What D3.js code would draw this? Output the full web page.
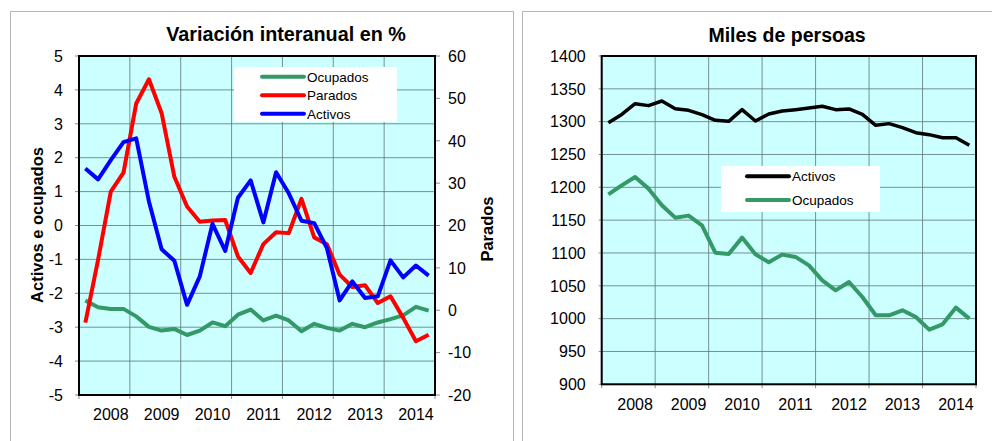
<!DOCTYPE html>
<head>
  <meta charset="utf-8">
  <style>
    body { margin: 0; background: #fff; }
    svg { display: block; font-family: "Liberation Sans", Arial, sans-serif; }
  </style>
  <script src="https://cdn.jsdelivr.net/npm/d3@7"></script>
</head>
<body>
<div id=chart></div>
<script>
// quarters 2008T1 .. 2014T4
const years = [2008, 2009, 2010, 2011, 2012, 2013, 2014]
const quarters = years.flatMap(y => ['T1', 'T2', 'T3', 'T4'].map(q => `${y}${q}`))

// variación interanual (%)
const var_ocupados = [-2.21, -2.41, -2.46, -2.46, -2.68, -2.99, -3.10, -3.05, -3.23, -3.10, -2.86, -2.97, -2.63, -2.48,
  -2.80, -2.66, -2.80, -3.12, -2.90, -3.02, -3.10, -2.90, -3.00, -2.86, -2.76, -2.65, -2.40, -2.51]
const var_activos = [1.68, 1.36, 1.93, 2.46, 2.57, 0.71, -0.70, -1.04, -2.34, -1.50, 0.05, -0.75, 0.82, 1.33,
  0.09, 1.57, 0.95, 0.14, 0.07, -0.67, -2.21, -1.65, -2.14, -2.09, -1.03, -1.53, -1.18, -1.48]
const var_parados = [-2.9, 11.9, 28.0, 32.5, 48.8, 54.5, 46.5, 31.5, 24.5, 20.9, 21.2, 21.3, 12.7, 8.8,
  15.6, 18.4, 18.2, 26.3, 17.2, 15.6, 8.4, 5.5, 5.9, 1.7, 3.3, -1.8, -7.3, -5.8]

// miles de persoas
const miles_activos = [1298.5, 1311, 1327.4, 1324.4, 1331.5, 1319.8, 1317.3, 1310.7, 1302, 1300.5, 1318.3, 1301, 1311.7, 1316.2,
  1318.3, 1320.8, 1323.4, 1318.3, 1319.3, 1311.2, 1294.4, 1297, 1290.9, 1283.2, 1280.2, 1275.6, 1275.6, 1264]
const miles_ocupados = [1189.3, 1203, 1215.7, 1198, 1172.6, 1153.8, 1156.9, 1142.1, 1100.5, 1098.5, 1123.4, 1098, 1085.8, 1097.5,
  1094, 1081.2, 1058.4, 1043.1, 1055.8, 1033, 1005.1, 1005.1, 1012.7, 1002.5, 983.2, 991.4, 1016.8, 1000]

const left_ticks = d3.range(-5, 6, 1)
const right_ticks = d3.range(-20, 61, 10)
const miles_ticks = d3.range(900, 1401, 50)

const svg = d3.select('#chart').append('svg').attr('width', 992).attr('height', 441)

// outer frames
svg.append('path').attr('d', 'M10.5,441V11.5H513.5V441').attr('fill', 'none').attr('stroke', '#b4b4b4')
svg.append('path').attr('d', 'M522.5,441V11.5H992').attr('fill', 'none').attr('stroke', '#b4b4b4')

const grid_color = '#5f7878'

function plot_base(g, x, y, yticks, box) {
  const [x0, x1] = x.range(), [y0, y1] = [box.top, box.bottom]
  g.append('rect').attr('x', x0).attr('y', y0).attr('width', x1 - x0).attr('height', y1 - y0).attr('fill', '#ccffff')
  // horizontal grid
  g.append('g').selectAll('line').data(yticks).join('line')
    .attr('x1', x0 - box.tick).attr('x2', x1).attr('y1', d => y(d)).attr('y2', d => y(d))
    .attr('stroke', grid_color).attr('stroke-width', 1).attr('opacity', 0.8)
  // vertical grid + bottom ticks
  const bounds = quarters.filter((q, i) => i % 4 === 0).map(q => x(q)).concat([x1])
  g.append('g').selectAll('line').data(bounds).join('line')
    .attr('x1', d => d).attr('x2', d => d).attr('y1', y0).attr('y2', y1 + 4)
    .attr('stroke', grid_color).attr('stroke-width', 1).attr('opacity', 0.8)
  // year labels
  g.append('g').selectAll('text').data(years).join('text')
    .attr('x', (d, i) => x(quarters[i * 4 + 2]) + x.bandwidth() / 2)
    .attr('y', box.label_y)
    .attr('text-anchor', 'middle').attr('font-size', 16).text(d => d)
  // y labels
  g.append('g').selectAll('text').data(yticks).join('text')
    .attr('x', x0 - 16).attr('y', d => y(d)).attr('dy', '0.36em')
    .attr('text-anchor', 'end').attr('font-size', 16).text(d => d)
}

function plot_border(g, x, box) {
  const [x0, x1] = x.range()
  g.append('rect').attr('x', x0).attr('y', box.top).attr('width', x1 - x0).attr('height', box.bottom - box.top)
    .attr('fill', 'none').attr('stroke', '#000').attr('stroke-width', 2)
}

function draw_series(g, x, y, values, color, width) {
  const line = d3.line().x((d, i) => x(quarters[i]) + x.bandwidth() / 2).y(d => y(d))
  g.append('path').attr('d', line(values)).attr('fill', 'none')
    .attr('stroke', color).attr('stroke-width', width).attr('stroke-linejoin', 'round')
}

function legend(g, items, box) {
  g.append('rect').attr('x', box.x).attr('y', box.y).attr('width', box.w).attr('height', box.h).attr('fill', '#fff')
  const rows = g.append('g').selectAll('g').data(items).join('g')
    .attr('transform', (d, i) => `translate(0,${box.row0 + i * box.step})`)
  rows.append('line').attr('x1', box.lx0).attr('x2', box.lx1)
    .attr('stroke', d => d.color).attr('stroke-width', 4).attr('stroke-linecap', 'round')
  rows.append('text').attr('x', box.lx1 + 3).attr('dy', '0.36em').attr('font-size', 13.5).text(d => d.name)
}

// ---- left chart: variación interanual ----
{
  const g = svg.append('g')
  const box = { top: 56, bottom: 395, tick: 4, label_y: 420 }
  const x = d3.scaleBand().domain(quarters).range([79, 435])
  const yL = d3.scaleLinear([-5, 5], [box.bottom, box.top])
  const yR = d3.scaleLinear([-20, 60], [box.bottom, box.top])

  plot_base(g, x, yL, left_ticks, box)

  // right axis ticks + labels
  g.append('g').selectAll('line').data(right_ticks).join('line')
    .attr('x1', 435).attr('x2', 440).attr('y1', d => yR(d)).attr('y2', d => yR(d))
    .attr('stroke', grid_color).attr('opacity', 0.8)
  g.append('g').selectAll('text').data(right_ticks).join('text')
    .attr('x', 448).attr('y', d => yR(d)).attr('dy', '0.36em').attr('font-size', 16).text(d => d)

  draw_series(g, x, yL, var_ocupados, '#339966', 4)
  draw_series(g, x, yR, var_parados, '#ff0000', 4)
  draw_series(g, x, yL, var_activos, '#0000ff', 4)
  plot_border(g, x, box)

  legend(g, [
    { name: 'Ocupados', color: '#339966' },
    { name: 'Parados', color: '#ff0000' },
    { name: 'Activos', color: '#0000ff' },
  ], { x: 234, y: 67, w: 163, h: 55, row0: 76.7, step: 18.5, lx0: 262, lx1: 304 })

  g.append('text').attr('x', 286).attr('y', 41).attr('text-anchor', 'middle')
    .attr('font-size', 19.8).attr('font-weight', 'bold').text('Variación interanual en %')
  g.append('text').attr('transform', 'translate(43,225) rotate(-90)').attr('text-anchor', 'middle')
    .attr('font-size', 16.5).attr('font-weight', 'bold').text('Activos e ocupados')
  g.append('text').attr('transform', 'translate(493,229) rotate(-90)').attr('text-anchor', 'middle')
    .attr('font-size', 16.5).attr('font-weight', 'bold').text('Parados')
}

// ---- right chart: miles de persoas ----
{
  const g = svg.append('g')
  const box = { top: 56, bottom: 384.3, tick: 3, label_y: 410 }
  const x = d3.scaleBand().domain(quarters).range([601.7, 976])
  const y = d3.scaleLinear([900, 1400], [box.bottom, box.top])

  plot_base(g, x, y, miles_ticks, box)
  draw_series(g, x, y, miles_activos, '#000000', 3.5)
  draw_series(g, x, y, miles_ocupados, '#339966', 4)
  plot_border(g, x, box)

  legend(g, [
    { name: 'Activos', color: '#000000' },
    { name: 'Ocupados', color: '#339966' },
  ], { x: 721, y: 166, w: 159, h: 46, row0: 176.3, step: 23.7, lx0: 747, lx1: 789 })

  g.append('text').attr('x', 787).attr('y', 42).attr('text-anchor', 'middle')
    .attr('font-size', 19.5).attr('font-weight', 'bold').text('Miles de persoas')
}
</script>
</body>
